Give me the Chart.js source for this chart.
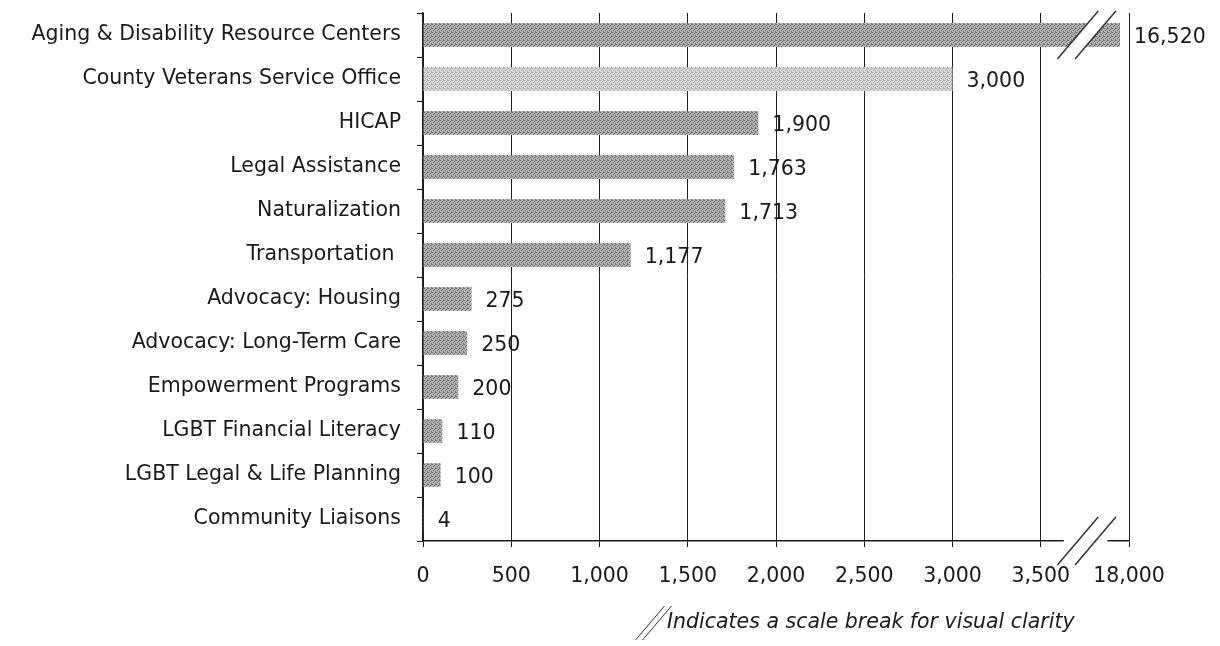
<!DOCTYPE html>
<html>
<head>
<meta charset="utf-8">
<script src="https://cdn.jsdelivr.net/npm/chart.js@4"></script>
<style>
  body { margin: 0; background: #fff; }
  #wrap { width: 1220px; height: 646px; position: relative; }
</style>
</head>
<body>
<div id="wrap"><canvas id="chart"></canvas></div>
<script>
const categories = [
  'Aging & Disability Resource Centers',
  'County Veterans Service Office',
  'HICAP',
  'Legal Assistance',
  'Naturalization',
  'Transportation ',
  'Advocacy: Housing',
  'Advocacy: Long-Term Care',
  'Empowerment Programs',
  'LGBT Financial Literacy',
  'LGBT Legal & Life Planning',
  'Community Liaisons'
]
const values = [16520, 3000, 1900, 1763, 1713, 1177, 275, 250, 200, 110, 100, 4]
const tickValues = [0, 500, 1000, 1500, 2000, 2500, 3000, 3500, 4000]
const tickLabels = ['0', '500', '1,000', '1,500', '2,000', '2,500', '3,000', '3,500', '18,000']
const noteText = 'Indicates a scale break for visual clarity'

// scale break: 3,500 .. 18,000 squeezed into one 500-wide step
const breakStart = 3500
const breakEnd = 18000
const toAxis = v => v <= breakStart ? v : breakStart + (v - breakStart) / (breakEnd - breakStart) * 500

const FONT = "'DejaVu Sans', 'Open Sans', sans-serif"
const SIZE = 20.5

// stippled grey like the scanned original
function stipple(base, dot) {
  const c = document.createElement('canvas')
  c.width = 4; c.height = 4
  const g = c.getContext('2d')
  g.fillStyle = base
  g.fillRect(0, 0, 4, 4)
  g.fillStyle = dot
  ;[[0, 0], [2, 1], [1, 2], [3, 3], [3, 0]].forEach(([x, y]) => g.fillRect(x, y, 1, 1))
  return g.createPattern(c, 'repeat')
}

const ctx = document.getElementById('chart').getContext('2d')
const darkFill = stipple('#b4b4b4', '#6e6e6e')
const lightFill = stipple('#dadada', '#a8a8a8')

function slash(c, x, y, half) {
  c.beginPath()
  c.moveTo(x - half * 0.85, y + half)
  c.lineTo(x + half * 0.85, y - half)
  c.stroke()
}

const decorations = {
  id: 'decorations',
  afterDatasetsDraw(chart) {
    const c = chart.ctx
    const xs = chart.scales.x
    const meta = chart.getDatasetMeta(0)

    // value labels
    c.save()
    c.font = `${SIZE}px ${FONT}`
    c.fillStyle = '#1a1a1a'
    c.textBaseline = 'middle'
    c.textAlign = 'left'
    meta.data.forEach((bar, i) => {
      c.fillText(values[i].toLocaleString('en-US'), bar.x + 14, bar.y + 3)
    })
    c.restore()

    // break on the first bar
    const b0 = meta.data[0]
    const xa = xs.getPixelForValue(3710)
    const xb = xs.getPixelForValue(3810)
    const top = b0.y - b0.height / 2 - 1
    const bot = b0.y + b0.height / 2 + 1
    const k = 0.85
    c.save()
    c.fillStyle = '#fff'
    c.beginPath()
    c.moveTo(xa - (bot - b0.y) * k, bot)
    c.lineTo(xa + (b0.y - top) * k, top)
    c.lineTo(xb + (b0.y - top) * k, top)
    c.lineTo(xb - (bot - b0.y) * k, bot)
    c.closePath()
    c.fill()
    c.strokeStyle = '#333'
    c.lineWidth = 1.5
    slash(c, xa, b0.y, 24)
    slash(c, xb, b0.y, 24)

    // break on the x axis
    const ay = chart.chartArea.bottom
    c.fillStyle = '#fff'
    c.fillRect(xa - 14, ay - 3, xb - xa + 26, 6)
    slash(c, xa, ay, 24)
    slash(c, xb, ay, 24)

    // note under the chart
    const nx = 667, ny = 623
    c.lineWidth = 1
    slash(c, nx - 17, ny, 17)
    slash(c, nx - 10, ny, 17)
    c.font = `italic ${SIZE}px ${FONT}`
    c.fillStyle = '#1a1a1a'
    c.textBaseline = 'middle'
    c.textAlign = 'left'
    c.fillText(noteText, nx, ny)
    c.restore()
  }
}

new Chart(ctx, {
  type: 'bar',
  data: {
    labels: categories,
    datasets: [{
      data: values.map(toAxis),
      backgroundColor: values.map((v, i) => i === 1 ? lightFill : darkFill),
      borderWidth: 0,
      barPercentage: 0.54,
      categoryPercentage: 1
    }]
  },
  options: {
    indexAxis: 'y',
    responsive: true,
    maintainAspectRatio: false,
    animation: false,
    layout: { padding: { top: 13, right: 91, bottom: 0, left: 0 } },
    plugins: {
      legend: { display: false },
      tooltip: { enabled: false }
    },
    scales: {
      x: {
        min: 0,
        max: 4000,
        afterBuildTicks: s => { s.ticks = tickValues.map(v => ({ value: v })) },
        afterFit: s => { s.height = 105 },
        ticks: {
          callback: (v) => tickLabels[tickValues.indexOf(v)],
          color: '#1a1a1a',
          font: { family: FONT, size: SIZE },
          padding: 17,
          maxRotation: 0,
          autoSkip: false
        },
        grid: { color: '#1e1e1e', lineWidth: 1, tickLength: 6 },
        border: { color: '#1e1e1e', width: 1.5 }
      },
      y: {
        afterFit: s => { s.width = 423; s.paddingTop = 0; s.paddingBottom = 0 },
        ticks: {
          color: '#1a1a1a',
          font: { family: FONT, size: SIZE },
          padding: 16
        },
        grid: { drawOnChartArea: false, color: '#1e1e1e', tickLength: 6, offset: true },
        border: { color: '#1e1e1e', width: 1.5 }
      }
    }
  },
  plugins: [decorations]
})
</script>
</body>
</html>
